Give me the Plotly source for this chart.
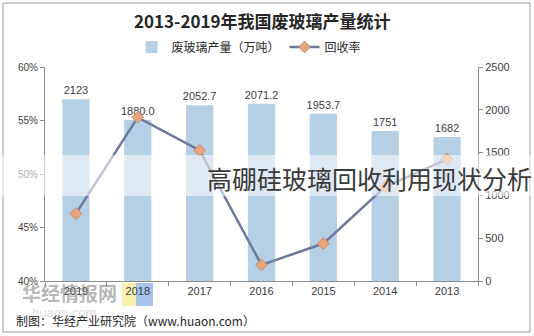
import plotly.graph_objects as go

years = ["2019", "2018", "2017", "2016", "2015", "2014", "2013"]
production = [2123, 1880.0, 2052.7, 2071.2, 1953.7, 1751, 1682]
production_labels = ["2123", "1880.0", "2052.7", "2071.2", "1953.7", "1751", "1682"]
recovery_rate = [46.3, 55.3, 52.2, 41.5, 43.5, 48.8, 51.4]

W, H = 534, 336
ml, mr, mt, mb = 45, 56, 67, 55


def px_x(x):
    return (x - ml) / (W - ml - mr)


def px_y(y):
    return (H - mb - y) / (H - mt - mb)


fig = go.Figure()
fig.add_trace(go.Bar(
    x=years, y=production, name="废玻璃产量（万吨）",
    marker=dict(color="#b5cfe4", line=dict(width=0)),
    text=production_labels, textposition="outside", cliponaxis=False,
    constraintext="none",
    textfont=dict(size=11, color="#404040", family="Liberation Sans, Arial"),
    yaxis="y", width=0.44,
))
fig.add_trace(go.Scatter(
    x=years, y=recovery_rate, name="回收率", mode="lines+markers",
    line=dict(color="#6d7a9e", width=2.5),
    marker=dict(symbol="diamond", size=9, color="#e6a57c", line=dict(color="#c98b66", width=1)),
    yaxis="y2",
))

# white translucent band behind overlay title
fig.add_shape(type="rect", xref="paper", yref="paper",
              x0=px_x(0), x1=px_x(W), y0=px_y(196), y1=px_y(155),
              fillcolor="white", opacity=0.55, line=dict(width=0), layer="above")

# outer border
fig.add_shape(type="rect", xref="paper", yref="paper",
              x0=px_x(3), x1=px_x(530), y0=px_y(332), y1=px_y(3),
              line=dict(color="#9a9a9a", width=1), fillcolor="rgba(0,0,0,0)", layer="below")

# logo highlight behind 2018 label
fig.add_shape(type="rect", xref="paper", yref="paper", x0=px_x(122), x1=px_x(136),
              y0=px_y(306), y1=px_y(283), fillcolor="#f6ec9a", opacity=0.8,
              line=dict(width=0), layer="below")
fig.add_shape(type="rect", xref="paper", yref="paper", x0=px_x(136), x1=px_x(153),
              y0=px_y(306), y1=px_y(283), fillcolor="#8fb4e8", opacity=0.8,
              line=dict(width=0), layer="below")

annotations = [
    dict(text="<b>2013-2019年我国废玻璃产量统计</b>", x=px_x(262), y=px_y(20),
         xref="paper", yref="paper", xanchor="center", yanchor="middle", showarrow=False,
         font=dict(size=17, color="#262626", family="Noto Sans CJK SC")),
    dict(text="高硼硅玻璃回收利用现状分析", x=px_x(534), y=px_y(178),
         xref="paper", yref="paper", xanchor="right", yanchor="middle", showarrow=False,
         font=dict(size=25, color="#3a3a3a", family="Noto Sans CJK SC")),
    dict(text="制图：华经产业研究院（www.huaon.com）", x=px_x(14), y=px_y(320),
         xref="paper", yref="paper", xanchor="left", yanchor="middle", showarrow=False,
         font=dict(size=12, color="#262626", family="Noto Sans CJK SC")),
    dict(text="<b>华经情报网</b>", x=px_x(20), y=px_y(292),
         xref="paper", yref="paper", xanchor="left", yanchor="middle", showarrow=False,
         font=dict(size=19, color="rgba(120,120,120,0.55)", family="Noto Sans CJK SC")),
    dict(text="huaon.com", x=px_x(30), y=px_y(312),
         xref="paper", yref="paper", xanchor="left", yanchor="middle", showarrow=False,
         font=dict(size=13, color="rgba(150,150,150,0.35)", family="Liberation Sans")),
]

fig.update_layout(
    width=W, height=H,
    margin=dict(l=ml, r=mr, t=mt, b=mb),
    paper_bgcolor="white", plot_bgcolor="white",
    showlegend=True,
    legend=dict(orientation="h", x=px_x(249), xanchor="center", y=px_y(47), yanchor="middle",
                font=dict(size=12, color="#262626", family="Noto Sans CJK SC"),
                bgcolor="rgba(0,0,0,0)", traceorder="normal", itemwidth=30),
    bargap=0.55,
    xaxis=dict(type="category", categoryorder="array", categoryarray=years,
               showline=True, linecolor="#8c8c8c", linewidth=1,
               ticks="outside", tickson="boundaries", ticklen=4, tickcolor="#8c8c8c",
               tickfont=dict(size=11, color="#404040", family="Liberation Sans, Arial"),
               showgrid=False),
    yaxis=dict(side="right", range=[0, 2500], dtick=500, showgrid=False, zeroline=False,
               showline=True, linecolor="#8c8c8c", linewidth=1,
               ticks="outside", ticklen=4, tickcolor="#8c8c8c",
               tickfont=dict(size=11, color="#404040", family="Liberation Sans, Arial")),
    yaxis2=dict(side="left", overlaying="y", range=[40, 60], dtick=5, ticksuffix="%",
                showgrid=False, zeroline=False,
                showline=True, linecolor="#8c8c8c", linewidth=1,
                ticks="outside", ticklen=4, tickcolor="#8c8c8c",
                tickfont=dict(size=10, color="#404040", family="Liberation Sans, Arial")),
    annotations=annotations,
)

fig.write_html("out.html")
